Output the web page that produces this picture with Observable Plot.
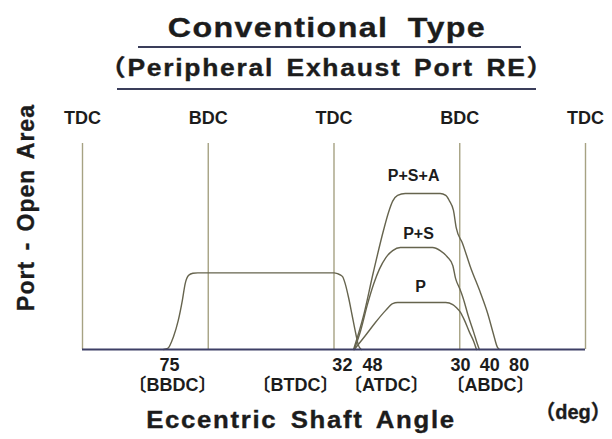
<!DOCTYPE html>
<html>
<head>
<meta charset="utf-8">
<script src="https://cdn.jsdelivr.net/npm/d3@7"></script>
<script src="https://cdn.jsdelivr.net/npm/@observablehq/plot@0.6"></script>
<style>
  html, body { margin: 0; padding: 0; background: #fff; }
  #wrap { position: relative; width: 612px; height: 439px; overflow: hidden;
          font-family: "Liberation Sans", Arial, "Noto Sans CJK JP", sans-serif; color: #1c1c1c; }
  #chart { position: absolute; left: 0; top: 0; }
  .t { position: absolute; white-space: nowrap; font-weight: bold; line-height: 1; text-align: center;
       -webkit-text-stroke: 0.35px #1c1c1c; }
  .ul { position: absolute; height: 2px; background: #3a3d5a; }
</style>
</head>
<body>
<div id="wrap">
  <div id="chart"></div>
  <div class="t" id="title" style="left:77px;top:14px;width:500px;font-size:28px;letter-spacing:1.2px;word-spacing:8px;transform:scaleX(1.15);">Conventional Type</div>
  <div class="ul" style="left:138px;top:46px;width:383px;"></div>
  <div class="t" id="subtitle" style="left:77px;top:57px;width:500px;font-size:23px;letter-spacing:1.5px;word-spacing:3px;transform:scaleX(1.15);">（Peripheral Exhaust Port RE）</div>
  <div class="ul" style="left:117px;top:88px;width:419px;"></div>
  <div class="t" id="ylabel" style="left:-104px;top:196px;width:260px;font-size:23px;letter-spacing:1px;word-spacing:3px;transform:rotate(-90deg);">Port - Open Area</div>
  <div class="t" id="xlabel" style="left:101px;top:409px;width:400px;font-size:23px;letter-spacing:1.5px;word-spacing:4px;transform:scaleX(1.12);">Eccentric Shaft Angle</div>
  <div class="t" id="unit" style="left:513px;top:402px;width:120px;font-size:20px;">（deg）</div>
</div>
<script>
// Reference strokes: TDC / BDC positions (deg of eccentric shaft)
const strokeAngles = [0, 180, 360, 540, 720];
const strokeLabels = ["TDC", "BDC", "TDC", "BDC", "TDC"];

// Timing value labels below the axis (position on the drawing, printed value)
const timingPos = [124.5, 372, 415, 541, 583, 625];
const timingLabels = ["75", "32", "48", "30", "40", "80"];
const refPos = [129, 305, 435, 584];
const refLabels = ["〔BBDC〕", "〔BTDC〕", "〔ATDC〕", "〔ABDC〕"];

// Exhaust port open area (flat-topped)
const exhaustAngle = [116, 122, 130, 137, 143, 147, 152, 158, 165, 360, 365, 372, 376, 381, 386, 391, 395, 399];
const exhaustArea  = [0, 0.5, 6, 14, 24, 32, 36, 37, 37.2, 37.2, 36.8, 35.5, 32, 25, 16.5, 8, 2, 0];

// Intake port open area: P+S+A
const psaAngle = [388, 402, 416, 431, 438, 444, 451, 462, 512, 520, 525, 531, 535, 544, 555, 570, 580, 588, 594, 597];
const psaArea  = [0, 16, 37, 58, 66.5, 72, 74.8, 75.7, 75.7, 74.8, 72.3, 67.5, 59, 51.5, 40.3, 27.2, 17.5, 7.8, 1, 0];

// Intake port open area: P+S
const psAngle = [389, 398, 408, 417, 425, 434, 444, 455, 501, 512, 522, 530, 534, 540, 545, 552, 560, 565, 568];
const psArea  = [0, 9, 22, 32, 39, 44.5, 48, 49.5, 49.5, 48, 45, 40.8, 34.5, 29.5, 24.8, 16.5, 8.3, 2.9, 0];

// Intake port open area: P
const pAngle = [389, 405, 419, 434, 444, 451, 520, 530, 535, 541, 547, 554, 560, 564];
const pArea  = [0, 6.8, 13, 19, 22.3, 22.8, 22.8, 21.8, 20.4, 18, 14, 8.3, 3.9, 0];

// Series names and where they are written
const seriesNames = ["P+S+A", "P+S", "P"];
const seriesLabelAngle = [474, 481, 484];
const seriesLabelArea = [84.5, 56.3, 30.6];

const toRows = (xs, ys) => xs.map((x, i) => ({x, y: ys[i]}));
const curves = [
  toRows(exhaustAngle, exhaustArea),
  toRows(psaAngle, psaArea),
  toRows(psAngle, psArea),
  toRows(pAngle, pArea)
];
const seriesLabels = seriesNames.map((n, i) => ({x: seriesLabelAngle[i], y: seriesLabelArea[i], n}));

const lineColor = "#66644e";
const ruleColor = "#a6a283";
const textColor = "#1c1c1c";
const font = "'Liberation Sans', Arial, 'Noto Sans CJK JP', sans-serif";

const plot = Plot.plot({
  width: 612,
  height: 439,
  marginLeft: 82,
  marginRight: 27,
  marginTop: 143,
  marginBottom: 90,
  x: {domain: [0, 720], axis: null},
  y: {domain: [0, 100], axis: null},
  style: {fontFamily: font, background: "transparent", color: textColor},
  marks: [
    Plot.ruleX(strokeAngles, {x: d => d, y1: 0, y2: 100, stroke: ruleColor, strokeWidth: 1.4}),
    ...curves.map(c => Plot.line(c, {x: "x", y: "y", curve: "monotone-x", stroke: lineColor, strokeWidth: 1.4})),
    Plot.ruleY([0], {x1: 0, x2: 720, stroke: "#3d3f66", strokeWidth: 2.2}),
    Plot.text(strokeAngles, {x: d => d, text: (d, i) => strokeLabels[i], frameAnchor: "top", dy: -25,
      lineAnchor: "middle", fontSize: 18, fontWeight: "bold", fill: textColor, letterSpacing: 1}),
    Plot.text(timingPos, {x: d => d, text: (d, i) => timingLabels[i], frameAnchor: "bottom", dy: 16,
      lineAnchor: "middle", fontSize: 18, fontWeight: "bold", fill: textColor}),
    Plot.text(refPos, {x: d => d, text: (d, i) => refLabels[i], frameAnchor: "bottom", dy: 36,
      lineAnchor: "middle", fontSize: 18, fontWeight: "bold", fill: textColor}),
    Plot.text(seriesLabels, {x: "x", y: "y", text: "n", lineAnchor: "middle", fontSize: 16,
      fontWeight: "bold", fill: textColor})
  ]
});
document.getElementById("chart").appendChild(plot);
</script>
</body>
</html>
